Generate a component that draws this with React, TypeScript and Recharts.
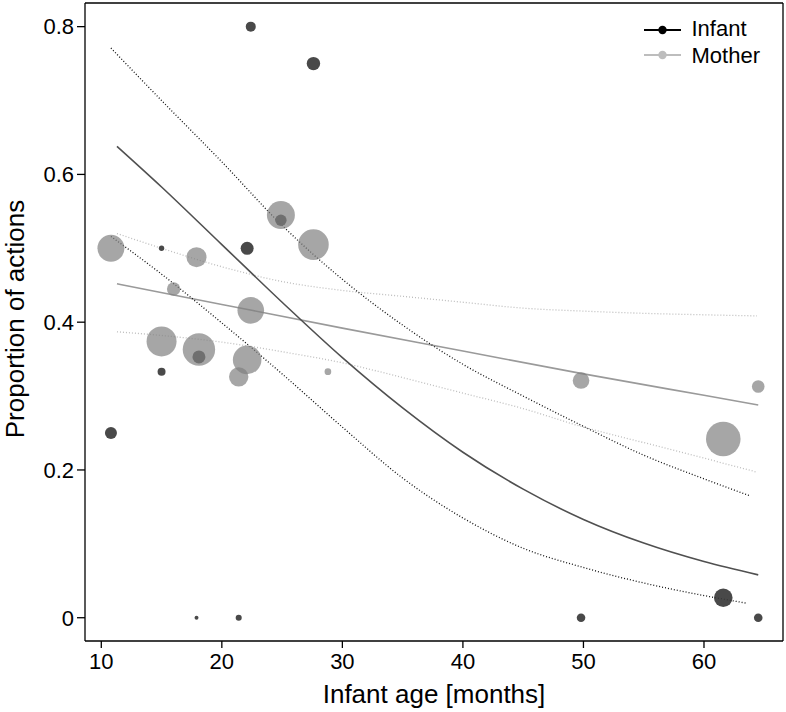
import React from 'react';
import { ComposedChart, Scatter, Line, XAxis, YAxis, ReferenceLine } from 'recharts';

// observed proportions, one bubble per infant (size ~ number of actions)
const infantAge = [22.4, 27.6, 24.9, 22.1, 15.0, 18.1, 15.0, 10.8, 17.9, 21.4, 61.6, 49.8, 64.5];
const infantProp = [0.8, 0.75, 0.538, 0.5, 0.5, 0.353, 0.333, 0.25, 0, 0, 0.027, 0, 0];
const infantN = [5.2, 9.3, 6.7, 8.7, 1.5, 8.7, 3.3, 7.4, 0.8, 1.9, 17.9, 3.8, 3.8];

const motherAge = [24.9, 27.6, 10.8, 17.9, 16.0, 22.4, 15.0, 18.1, 22.1, 21.4, 28.8, 49.8, 64.5, 61.6];
const motherProp = [0.545, 0.505, 0.5, 0.488, 0.445, 0.416, 0.374, 0.363, 0.349, 0.326, 0.333, 0.321, 0.313, 0.242];
const motherN = [40.5, 48.4, 37.7, 20.7, 9.3, 36.5, 46.5, 54.2, 42.2, 19.4, 2.3, 14.2, 8.2, 61.8];

// fitted curves and confidence bands
const infantFitX = [11.3, 15, 20, 25, 30, 35, 40, 45, 50, 55, 60, 64.5];
const infantFitY = [0.638, 0.583, 0.505, 0.427, 0.352, 0.284, 0.224, 0.174, 0.133, 0.101, 0.076, 0.058];
const infantUpperX = [10.8, 15, 20, 25, 30, 35, 40, 45, 50, 55, 60, 63.8];
const infantUpperY = [0.771, 0.7, 0.617, 0.531, 0.458, 0.396, 0.343, 0.3, 0.259, 0.22, 0.188, 0.165];
const infantLowerX = [10.8, 15, 20, 25, 30, 35, 40, 45, 50, 55, 60, 63.6];
const infantLowerY = [0.516, 0.465, 0.399, 0.33, 0.258, 0.189, 0.135, 0.094, 0.068, 0.047, 0.03, 0.0195];

const motherFitX = [11.3, 20, 30, 40, 50, 60, 64.5];
const motherFitY = [0.452, 0.424, 0.392, 0.361, 0.33, 0.301, 0.288];
const motherBandX = [11.3, 15, 20, 25, 30, 35, 40, 45, 50, 55, 60, 64.4];
const motherUpperY = [0.52, 0.5, 0.475, 0.455, 0.443, 0.435, 0.427, 0.419, 0.415, 0.412, 0.41, 0.4085];
const motherLowerY = [0.387, 0.382, 0.373, 0.36, 0.345, 0.325, 0.304, 0.283, 0.258, 0.237, 0.216, 0.197];

const xTicks = [10, 20, 30, 40, 50, 60];
const yTicks = [0, 0.2, 0.4, 0.6, 0.8];
const xDomain = [8.648, 66.555];
const yDomain = [-0.0315, 0.832];

const FONT = '"Liberation Sans", Arial, Helvetica, sans-serif';

const zip = (xs: number[], ys: number[]) => xs.map((x, i) => ({ x, y: ys[i] }));
const points = (xs: number[], ys: number[], ns: number[]) => xs.map((x, i) => ({ x, y: ys[i], n: ns[i] }));

const bubble = (fill: string, opacity: number) => (props: any) => {
   const { cx, cy, payload } = props;
   if (cx == null || cy == null) return <g />;
   return <circle cx={cx} cy={cy} r={2.2 * Math.sqrt(payload.n)} fill={fill} fillOpacity={opacity} />;
};

const YTitle = (props: any) => {
   const vb = props.viewBox || { x: 0, y: 3, width: 85, height: 638 };
   const cx = vb.x + 24;
   const cy = vb.y + vb.height / 2 - 3;
   return (
      <text x={cx} y={cy} transform={`rotate(-90, ${cx}, ${cy})`} textAnchor="middle" fontSize={26} fill="#000" fontFamily={FONT}>
         Proportion of actions
      </text>
   );
};

export default function App() {
   const tickStyle = { fill: '#000', fontSize: 22, fontFamily: FONT };
   const axisStroke = { stroke: '#000', strokeWidth: 1.3 };

   return (
      <div style={{ position: 'absolute', left: 0, top: 0, width: 786, height: 712, background: '#fff' }}>
         <ComposedChart width={786} height={712} margin={{ top: 3, right: 3, left: 0, bottom: 0 }} style={{ fontFamily: FONT }}>
            <XAxis
               dataKey="x"
               type="number"
               domain={xDomain}
               ticks={xTicks}
               allowDataOverflow
               height={71}
               tickSize={7}
               tickMargin={5}
               tick={tickStyle}
               tickLine={axisStroke}
               axisLine={axisStroke}
               label={{ value: 'Infant age [months]', position: 'insideBottom', offset: 9, fontSize: 26, fill: '#000', fontFamily: FONT }}
            />
            <YAxis
               dataKey="y"
               type="number"
               domain={yDomain}
               ticks={yTicks}
               allowDataOverflow
               width={85}
               tickSize={8}
               tickMargin={3}
               tick={tickStyle}
               tickLine={axisStroke}
               axisLine={axisStroke}
               label={{ content: YTitle }}
            />
            {/* top and right edges of the panel box */}
            <ReferenceLine y={yDomain[1]} stroke="#000" strokeWidth={1.3} />
            <ReferenceLine x={xDomain[1]} stroke="#000" strokeWidth={1.3} />

            <Scatter data={points(infantAge, infantProp, infantN)} fill="#3a3a3a" shape={bubble('#3a3a3a', 0.92)} isAnimationActive={false} />
            <Scatter data={points(motherAge, motherProp, motherN)} fill="#808080" shape={bubble('#808080', 0.7)} isAnimationActive={false} />

            <Line data={zip(motherBandX, motherUpperY)} dataKey="y" type="monotone" stroke="#bdbdbd" strokeWidth={1.3} strokeDasharray="1 2" dot={false} activeDot={false} isAnimationActive={false} />
            <Line data={zip(motherBandX, motherLowerY)} dataKey="y" type="monotone" stroke="#bdbdbd" strokeWidth={1.3} strokeDasharray="1 2" dot={false} activeDot={false} isAnimationActive={false} />
            <Line data={zip(motherFitX, motherFitY)} dataKey="y" type="monotone" stroke="#9a9a9a" strokeWidth={1.6} dot={false} activeDot={false} isAnimationActive={false} />
            <Line data={zip(infantUpperX, infantUpperY)} dataKey="y" type="monotone" stroke="#111" strokeWidth={1.3} strokeDasharray="1 2" dot={false} activeDot={false} isAnimationActive={false} />
            <Line data={zip(infantLowerX, infantLowerY)} dataKey="y" type="monotone" stroke="#111" strokeWidth={1.3} strokeDasharray="1 2" dot={false} activeDot={false} isAnimationActive={false} />
            <Line data={zip(infantFitX, infantFitY)} dataKey="y" type="monotone" stroke="#505050" strokeWidth={1.6} dot={false} activeDot={false} isAnimationActive={false} />
         </ComposedChart>

         {/* legend, top right inside the panel */}
         <svg width={786} height={712} style={{ position: 'absolute', left: 0, top: 0, pointerEvents: 'none' }}>
            <line x1={644} x2={681} y1={30} y2={30} stroke="#000" strokeWidth={2} />
            <circle cx={662.5} cy={30} r={4.2} fill="#000" />
            <text x={691.5} y={36} fontSize={22} fontFamily={FONT} fill="#000">Infant</text>
            <line x1={644} x2={681} y1={55} y2={55} stroke="#bdbdbd" strokeWidth={2} />
            <circle cx={662.5} cy={55} r={4.2} fill="#bdbdbd" />
            <text x={691.5} y={62.7} fontSize={22} fontFamily={FONT} fill="#000">Mother</text>
         </svg>
      </div>
   );
}
